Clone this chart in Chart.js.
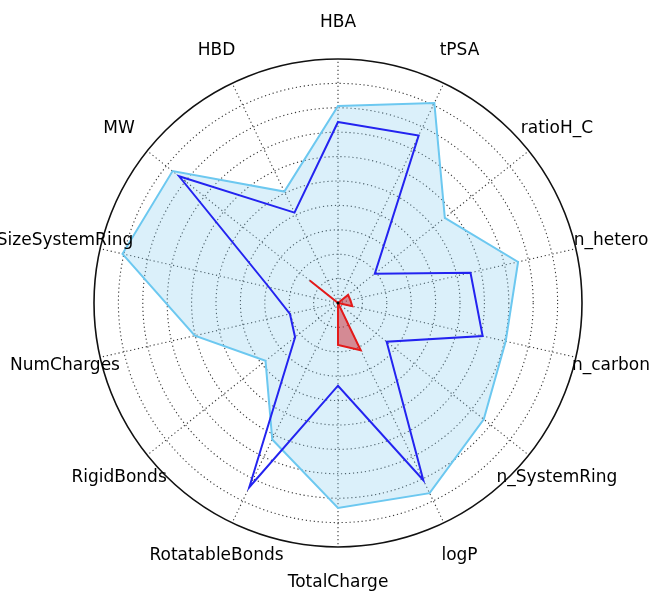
<!DOCTYPE html>
<html>
<head>
<meta charset="utf-8">
<script src="https://cdn.jsdelivr.net/npm/chart.js@4/dist/chart.umd.min.js"></script>
<style>
  html, body { margin: 0; padding: 0; background: #fff; }
  #radar-wrap { width: 650px; height: 591px; }
</style>
</head>
<body>
<div id="radar-wrap"><canvas id="radar-canvas"></canvas></div>
<script>
// axis names, clockwise from the top
const descriptors = ['HBA', 'tPSA', 'ratioH_C', 'n_hetero', 'n_carbon', 'n_SystemRing', 'logP',
    'TotalCharge', 'RotatableBonds', 'RigidBonds', 'NumCharges', 'SizeSystemRing', 'MW', 'HBD'];

// values (rings go 0..10)
const rangeValues = [8.07, 9.1, 5.6, 7.57, 7.05, 7.64, 8.65, 8.4, 6.21, 3.8, 6.02, 9.06, 8.67, 5.07];
const refValues   = [7.42, 7.62, 1.93, 5.57, 6.08, 2.55, 8.06, 3.39, 8.38, 2.25, 2.02, 2.9, 8.33, 4.11];
const molValues   = [0, 0, 0.53, 0.52, 0.6, 0, 2.15, 1.72, 0, 0, 0, 0, 1.48, 0];

const ringTicks = [0, 1, 2, 3, 4, 5, 6, 7, 8, 9, 10];

const ctx = document.getElementById('radar-canvas').getContext('2d');

// matplotlib style theta labels: centered text just outside the circle
const outerLabels = {
    id: 'outerLabels',
    afterDraw(chart) {
        const scale = chart.scales.r;
        const c = chart.ctx;
        c.save();
        c.font = '17px "DejaVu Sans"';
        c.fillStyle = '#000';
        c.textAlign = 'center';
        c.textBaseline = 'middle';
        descriptors.forEach((name, i) => {
            const pos = scale.getPointPosition(i, scale.drawingArea + 36);
            c.fillText(name, pos.x, pos.y);
        });
        // little dot at the pole
        c.fillStyle = '#000';
        c.beginPath();
        c.arc(scale.xCenter, scale.yCenter, 1.5, 0, Math.PI * 2);
        c.fill();
        c.restore();
    }
};

const myChart = new Chart(ctx, {
    type: 'radar',
    data: {
        labels: descriptors,
        datasets: [
            {
                label: 'range',
                data: rangeValues,
                borderColor: '#6cc8f0',
                backgroundColor: 'rgba(135, 206, 240, 0.3)',
                borderWidth: 2,
                fill: true,
                order: 3
            },
            {
                label: 'reference',
                data: refValues,
                borderColor: '#2323f0',
                backgroundColor: 'rgba(0, 0, 0, 0)',
                borderWidth: 2,
                fill: false,
                order: 2
            },
            {
                label: 'molecule',
                data: molValues,
                borderColor: '#e41a1a',
                backgroundColor: 'rgba(205, 35, 45, 0.5)',
                borderWidth: 2,
                fill: true,
                order: 1
            }
        ]
    },
    options: {
        responsive: true,
        maintainAspectRatio: false,
        animation: false,
        layout: {
            padding: { left: 94, right: 68, top: 59, bottom: 44 }
        },
        elements: {
            point: { radius: 0, hoverRadius: 0 },
            line: { tension: 0, borderJoinStyle: 'miter' }
        },
        plugins: {
            legend: { display: false },
            tooltip: { enabled: false }
        },
        scales: {
            r: {
                min: 0,
                max: 10,
                startAngle: 0,
                afterBuildTicks: axis => {
                    axis.ticks = ringTicks.map(v => ({ value: v }));
                },
                ticks: { display: false },
                pointLabels: { display: false },
                grid: {
                    circular: true,
                    color: c => c.tick && c.tick.value === 10 ? '#111' : 'rgba(20, 20, 20, 0.85)',
                    lineWidth: c => c.tick && c.tick.value === 10 ? 1.6 : 1.1
                },
                border: {
                    dash: c => c.tick && c.tick.value === 10 ? [] : [1.2, 2.8]
                },
                angleLines: {
                    color: 'rgba(20, 20, 20, 0.85)',
                    lineWidth: 1.1,
                    borderDash: [1.2, 2.8]
                }
            }
        }
    },
    plugins: [outerLabels]
});
</script>
</body>
</html>
